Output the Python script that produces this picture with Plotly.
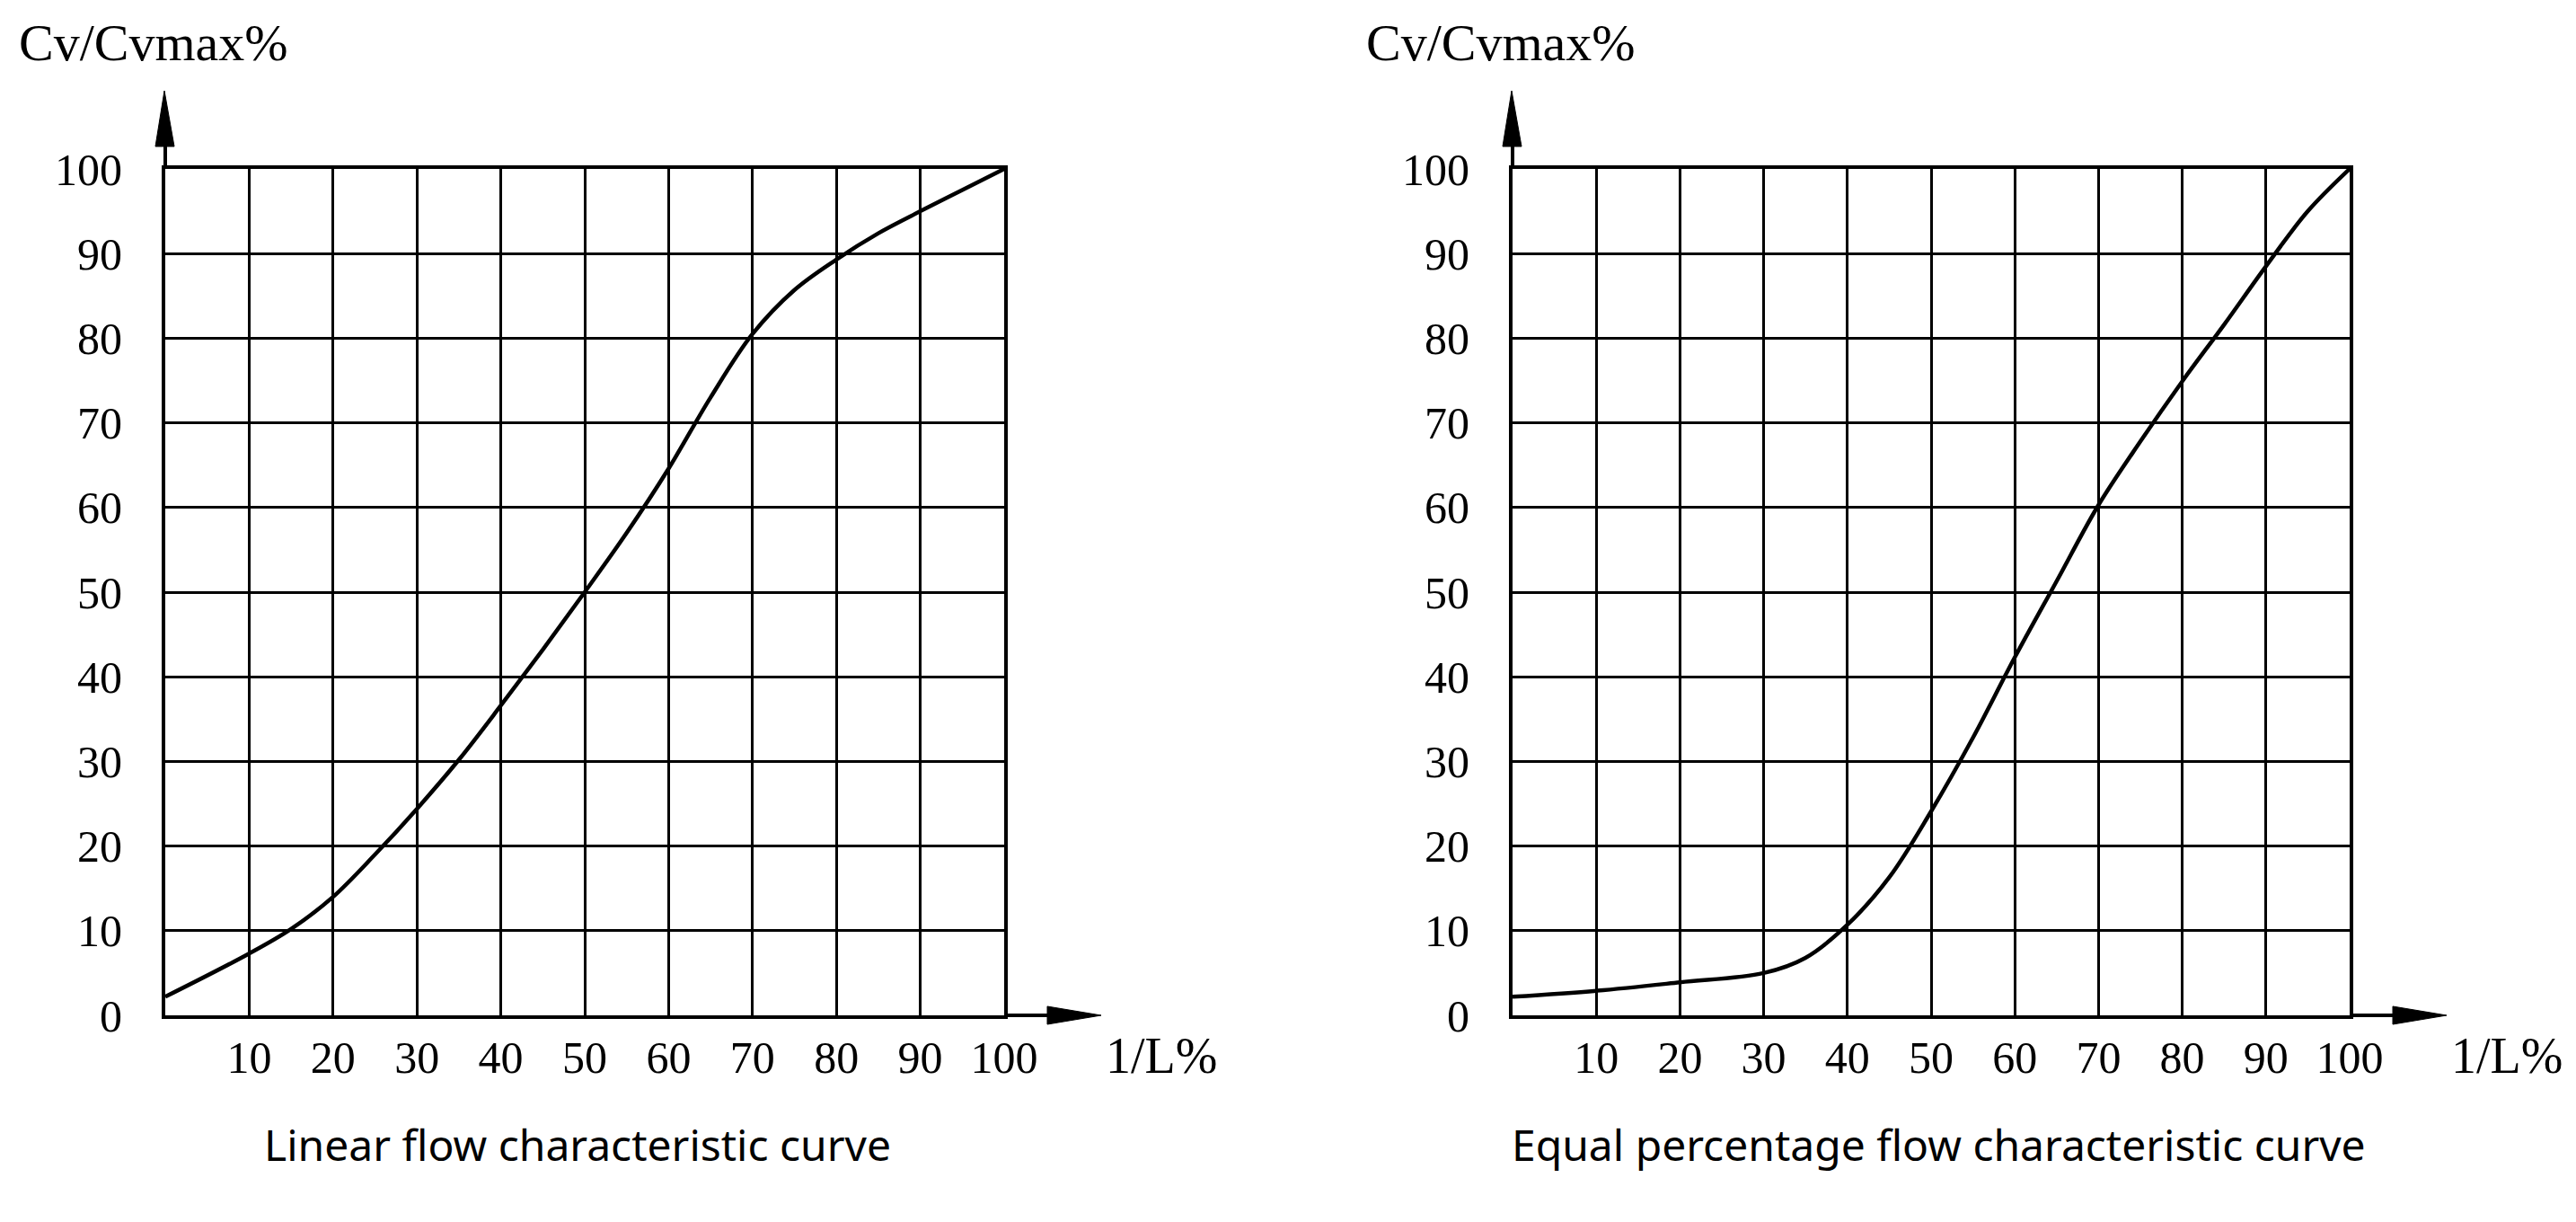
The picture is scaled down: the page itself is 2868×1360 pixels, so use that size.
import plotly.graph_objects as go

# ---- data ----
linear_x = [0, 10, 15, 20, 25, 30, 35, 40, 45, 50, 55, 60, 65, 70, 75, 80, 85, 90, 95, 100]
linear_y = [2.2, 7.3, 10.2, 14.0, 19.0, 24.4, 30.2, 36.6, 43.2, 50.0, 57.0, 64.6, 73.0, 80.5, 85.7, 89.3, 92.4, 95.0, 97.5, 100]

eqp_x = [0, 10, 20, 30, 35, 40, 45, 50, 55, 60, 65, 70, 75, 80, 85, 90, 95, 100]
eqp_y = [2.2, 2.9, 3.9, 5.0, 6.8, 10.7, 16.3, 24.1, 32.8, 42.3, 51.3, 60.3, 67.8, 74.9, 81.6, 88.5, 95.0, 100]

x_tickvals = [10, 20, 30, 40, 50, 60, 70, 80, 90, 100]
x_ticktext = ["10", "20", "30", "40", "50", "60", "70", "80", "90", "100"]
y_tickvals = [0, 10, 20, 30, 40, 50, 60, 70, 80, 90, 100]
y_ticktext = ["0", "10", "20", "30", "40", "50", "60", "70", "80", "90", "100"]

y_title = "Cv/Cvmax%"
x_title = "1/L%"
captions = ["Linear flow characteristic curve", "Equal percentage flow characteristic curve"]

# ---- layout geometry (pixels) ----
W, H = 2868, 1360
plots = [
    dict(x0=184, x1=1118),
    dict(x0=1684, x1=2616),
]
Y0, Y1 = 1130, 188  # pixel rows of value 0 and 100

def px(x):
    return x / W

def py(y):
    return 1 - y / H

SERIF = "Liberation Serif"
SANS = "Noto Sans"

fig = go.Figure()
fig.add_trace(go.Scatter(x=linear_x, y=linear_y, mode="lines", line=dict(color="black", width=4.5, shape="spline", smoothing=1.0),
                         xaxis="x", yaxis="y", showlegend=False, hoverinfo="skip"))
fig.add_trace(go.Scatter(x=eqp_x, y=eqp_y, mode="lines", line=dict(color="black", width=4.5, shape="spline", smoothing=1.0),
                         xaxis="x2", yaxis="y2", showlegend=False, hoverinfo="skip"))

axis_common = dict(range=[0, 100], showline=True, linecolor="black", linewidth=4, mirror=True,
                   showgrid=True, gridcolor="black", gridwidth=3, zeroline=False, ticks="",
                   fixedrange=True, automargin=False)

layout = dict(width=W, height=H, margin=dict(l=0, r=0, t=0, b=0, pad=0, autoexpand=False),
              template="none",
              paper_bgcolor="white", plot_bgcolor="white", showlegend=False)

shapes = []
annotations = []
for i, p in enumerate(plots):
    xa = "xaxis" if i == 0 else "xaxis2"
    ya = "yaxis" if i == 0 else "yaxis2"
    layout[xa] = dict(axis_common, domain=[px(p["x0"]), px(p["x1"])],
                      tickvals=x_tickvals, ticktext=x_ticktext,
                      tickfont=dict(family=SERIF, size=50, color="black"), ticklabelstandoff=0,
                      anchor="y" if i == 0 else "y2")
    layout[ya] = dict(axis_common, domain=[py(Y0), py(Y1)],
                      tickvals=y_tickvals, ticktext=y_ticktext,
                      tickfont=dict(family=SERIF, size=50, color="black"), ticklabelstandoff=34,
                      anchor="x" if i == 0 else "x2")
    ax0 = p["x0"]
    # vertical arrow
    shapes.append(dict(type="line", xref="paper", yref="paper", x0=px(ax0), x1=px(ax0), y0=py(Y1), y1=py(160),
                       line=dict(color="black", width=4)))
    shapes.append(dict(type="path", xref="paper", yref="paper",
                       path=f"M {px(ax0-11)},{py(163)} L {px(ax0-1)},{py(101)} L {px(ax0+10)},{py(163)} Z",
                       fillcolor="black", line=dict(color="black", width=1)))
    # horizontal arrow
    shapes.append(dict(type="line", xref="paper", yref="paper", x0=px(p["x1"]), x1=px(p["x1"] + 52), y0=py(Y0), y1=py(Y0),
                       line=dict(color="black", width=4)))
    shapes.append(dict(type="path", xref="paper", yref="paper",
                       path=f"M {px(p['x1']+48)},{py(Y0-10)} L {px(p['x1']+108)},{py(Y0)} L {px(p['x1']+48)},{py(Y0+10)} Z",
                       fillcolor="black", line=dict(color="black", width=1)))
    # titles
    annotations.append(dict(text=y_title, xref="paper", yref="paper", x=px(ax0 - 165), y=py(48),
                            xanchor="left", yanchor="middle", showarrow=False,
                            font=dict(family=SERIF, size=58, color="black")))
    annotations.append(dict(text=x_title, xref="paper", yref="paper", x=px(p["x1"] + 111), y=py(1175),
                            xanchor="left", yanchor="middle", showarrow=False,
                            font=dict(family=SERIF, size=56, color="black")))
    annotations.append(dict(text=captions[i], xref="paper", yref="paper",
                            x=px(292) if i == 0 else px(1681), y=py(1273),
                            xanchor="left", yanchor="middle", showarrow=False,
                            font=dict(family=SANS, size=48, color="black")))

layout["shapes"] = shapes
layout["annotations"] = annotations
fig.update_layout(**layout)
fig.write_html("out.html")
